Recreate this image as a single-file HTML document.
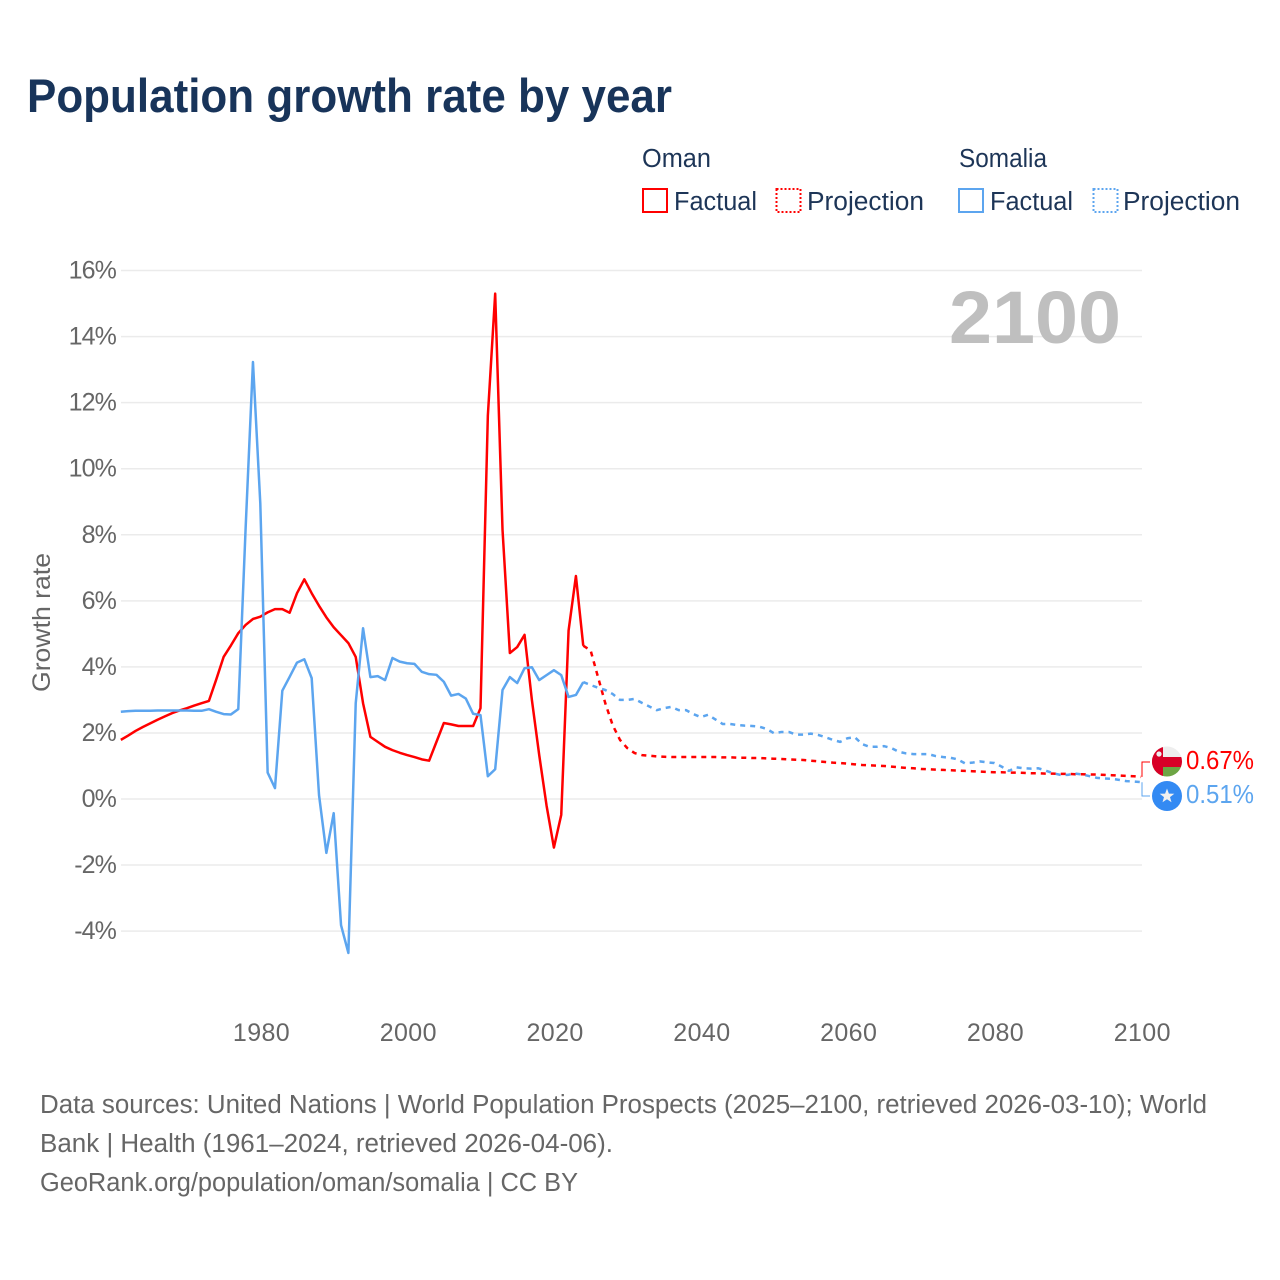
<!DOCTYPE html>
<html lang="en">
<head>
<meta charset="utf-8">
<title>Population growth rate by year</title>
<style>
html,body{margin:0;padding:0;background:#fff;}
svg{display:block;}
text{font-family:"Liberation Sans",sans-serif;}
.tick{font-size:25px;fill:#666;letter-spacing:-0.9px;}
.foot{font-size:25.5px;fill:#666;}
.leg{font-size:25.5px;fill:#1d3557;}
</style>
</head>
<body>
<svg id="chart" xmlns="http://www.w3.org/2000/svg" width="1280" height="1280" viewBox="0 0 1280 1280">
  <rect x="0" y="0" width="1280" height="1280" fill="#fff"/>
  <text x="27" y="112" font-size="47" font-weight="700" fill="#18345a" textLength="645" lengthAdjust="spacingAndGlyphs">Population growth rate by year</text>

  <g>
    <text class="leg" x="642" y="167" textLength="69" lengthAdjust="spacingAndGlyphs">Oman</text>
    <text class="leg" x="959" y="167" textLength="88" lengthAdjust="spacingAndGlyphs">Somalia</text>
    <rect x="643" y="189" width="24" height="23" fill="none" stroke="#ff0000" stroke-width="2"/>
    <text class="leg" x="674" y="210" textLength="83" lengthAdjust="spacingAndGlyphs">Factual</text>
    <rect x="776.5" y="189" width="24" height="23" fill="none" stroke="#ff0000" stroke-width="2" stroke-dasharray="2 2"/>
    <text class="leg" x="807" y="210" textLength="117" lengthAdjust="spacingAndGlyphs">Projection</text>
    <rect x="959" y="189" width="24" height="23" fill="none" stroke="#5ca5ef" stroke-width="2"/>
    <text class="leg" x="990" y="210" textLength="83" lengthAdjust="spacingAndGlyphs">Factual</text>
    <rect x="1093.5" y="189" width="24" height="23" fill="none" stroke="#5ca5ef" stroke-width="2" stroke-dasharray="2 2"/>
    <text class="leg" x="1123" y="210" textLength="117" lengthAdjust="spacingAndGlyphs">Projection</text>
  </g>

  <g id="grid"></g>
  <g id="yticks"></g>
  <g id="xticks"></g>

  <text transform="translate(50,692) rotate(-90)" font-size="25" fill="#666" textLength="139" lengthAdjust="spacingAndGlyphs">Growth rate</text>
  <text id="year-label" x="949" y="343" font-size="74" font-weight="700" fill="#bfbfbf" textLength="172" lengthAdjust="spacingAndGlyphs">2100</text>

  <g id="series"></g>

  <g id="connectors"></g>

  <defs>
    <clipPath id="flag-clip"><circle cx="1167" cy="761.5" r="15"/></clipPath>
  </defs>
  <g clip-path="url(#flag-clip)">
    <rect x="1152" y="746" width="30" height="31" fill="#eeeeee"/>
    <rect x="1152" y="757" width="30" height="10" fill="#d80027"/>
    <rect x="1152" y="767" width="30" height="10" fill="#6da544"/>
    <rect x="1152" y="746" width="11" height="31" fill="#d80027"/>
    <circle cx="1159" cy="754" r="2.6" fill="#eeeeee"/>
  </g>
  <g>
    <circle cx="1167" cy="796" r="15" fill="#338af3"/>
    <polygon points="1167,788.5 1168.9,793.6 1174.3,793.8 1170,797.1 1171.5,802.3 1167,799.3 1162.5,802.3 1164,797.1 1159.7,793.8 1165.1,793.6" fill="#f0f0f0"/>
  </g>
  <text x="1186" y="769" font-size="25.5" fill="#ff0000" textLength="68" lengthAdjust="spacingAndGlyphs">0.67%</text>
  <text x="1186" y="803" font-size="25.5" fill="#5ca5ef" textLength="68" lengthAdjust="spacingAndGlyphs">0.51%</text>

  <g>
    <text class="foot" x="40" y="1113" textLength="1167" lengthAdjust="spacingAndGlyphs">Data sources: United Nations | World Population Prospects (2025–2100, retrieved 2026-03-10); World</text>
    <text class="foot" x="40" y="1152" textLength="573" lengthAdjust="spacingAndGlyphs">Bank | Health (1961–2024, retrieved 2026-04-06).</text>
    <text class="foot" x="40" y="1191" textLength="538" lengthAdjust="spacingAndGlyphs">GeoRank.org/population/oman/somalia | CC BY</text>
  </g>
</svg>
<script>
const factualStartYear = 1961;
const projectionStartYear = 2024;
const yTickValues = [16, 14, 12, 10, 8, 6, 4, 2, 0, -2, -4];
const yTickLabels = ["16%", "14%", "12%", "10%", "8%", "6%", "4%", "2%", "0%", "-2%", "-4%"];
const xTickValues = [1980, 2000, 2020, 2040, 2060, 2080, 2100];
const xTickLabels = ["1980", "2000", "2020", "2040", "2060", "2080", "2100"];

const omanFactual = [
  1.79, 1.92, 2.06, 2.18, 2.29, 2.40, 2.50, 2.60, 2.68, 2.75, 2.83, 2.90, 2.97,
  3.62, 4.30, 4.65, 5.02, 5.27, 5.45, 5.52, 5.65, 5.75, 5.75, 5.64, 6.23, 6.65,
  6.23, 5.85, 5.50, 5.20, 4.96, 4.72, 4.30, 2.90, 1.88, 1.73, 1.58, 1.48, 1.40,
  1.33, 1.27, 1.20, 1.16, 1.73, 2.30, 2.26, 2.21, 2.21, 2.21, 2.75, 11.60, 15.30,
  8.15, 4.42, 4.60, 4.97, 3.00, 1.33, -0.20, -1.47, -0.48, 5.10, 6.75, 4.64
];
const omanProjection = [
  4.64, 4.50, 3.70, 2.90, 2.24, 1.79, 1.54, 1.39, 1.33, 1.31, 1.29, 1.28, 1.27,
  1.27, 1.27, 1.27, 1.27, 1.27, 1.27, 1.26, 1.26, 1.25, 1.25, 1.24, 1.24, 1.23,
  1.22, 1.21, 1.20, 1.19, 1.18, 1.16, 1.14, 1.12, 1.10, 1.09, 1.07, 1.05, 1.03,
  1.02, 1.01, 1.00, 0.98, 0.96, 0.94, 0.93, 0.91, 0.90, 0.89, 0.88, 0.87, 0.86,
  0.85, 0.84, 0.83, 0.82, 0.81, 0.81, 0.80, 0.80, 0.79, 0.78, 0.78, 0.77, 0.77,
  0.76, 0.76, 0.75, 0.75, 0.74, 0.74, 0.73, 0.72, 0.71, 0.70, 0.69, 0.67
];
const somaliaFactual = [
  2.64, 2.66, 2.67, 2.67, 2.67, 2.68, 2.68, 2.68, 2.68, 2.68, 2.67, 2.67, 2.72,
  2.64, 2.57, 2.56, 2.72, 8.20, 13.23, 8.95, 0.80, 0.33, 3.28, 3.70, 4.13, 4.23,
  3.66, 0.12, -1.63, -0.43, -3.82, -4.66, 2.90, 5.17, 3.69, 3.72, 3.60, 4.27,
  4.16, 4.11, 4.09, 3.85, 3.78, 3.76, 3.55, 3.13, 3.18, 3.04, 2.58, 2.54, 0.69,
  0.90, 3.30, 3.69, 3.51, 3.96, 3.99, 3.60, 3.75, 3.90, 3.75, 3.09, 3.15, 3.54
];
const somaliaProjection = [
  3.54, 3.45, 3.37, 3.30, 3.18, 3.00, 3.00, 3.03, 2.91, 2.80, 2.69, 2.75, 2.79,
  2.69, 2.69, 2.57, 2.48, 2.55, 2.41, 2.27, 2.27, 2.24, 2.22, 2.21, 2.19, 2.12,
  1.99, 2.03, 2.03, 1.95, 1.95, 1.98, 1.94, 1.87, 1.79, 1.73, 1.84, 1.87, 1.66,
  1.58, 1.58, 1.60, 1.54, 1.43, 1.38, 1.36, 1.36, 1.36, 1.30, 1.27, 1.25, 1.20,
  1.08, 1.10, 1.14, 1.11, 1.09, 0.98, 0.85, 0.96, 0.93, 0.92, 0.93, 0.86, 0.78,
  0.73, 0.73, 0.77, 0.74, 0.69, 0.64, 0.62, 0.61, 0.58, 0.54, 0.53, 0.51
];

const SVG_NS = "http://www.w3.org/2000/svg";
const RED = "#ff0000";
const BLUE = "#5ca5ef";
function xScale(year) { return 260.3 + (year - 1980) * 7.34; }
function yScale(value) { return 799 - value * 33.03; }
function pointsFor(values, startYear) {
  return values.map(function (v, i) {
    return xScale(startYear + i).toFixed(2) + "," + yScale(v).toFixed(2);
  }).join(" ");
}

const gridGroup = document.getElementById("grid");
const yGroup = document.getElementById("yticks");
yTickValues.forEach(function (v, i) {
  const line = document.createElementNS(SVG_NS, "line");
  
  
  line.setAttribute("x1", 121);
  line.setAttribute("x2", 1142);
  line.setAttribute("y1", yScale(v));
  line.setAttribute("y2", yScale(v));
  line.setAttribute("stroke", "#ebebeb");
  line.setAttribute("stroke-width", "1.5");
  gridGroup.appendChild(line);
  const t = document.createElementNS(SVG_NS, "text");
  
  
  t.setAttribute("class", "tick");
  t.setAttribute("x", 116);
  t.setAttribute("y", yScale(v) + 8);
  t.setAttribute("text-anchor", "end");
  t.textContent = yTickLabels[i];
  yGroup.appendChild(t);
});

const xGroup = document.getElementById("xticks");
xTickValues.forEach(function (yr, i) {
  const t = document.createElementNS(SVG_NS, "text");
  
  
  t.setAttribute("class", "tick");
  t.setAttribute("x", xScale(yr) + 1.2);
  t.setAttribute("y", 1041);
  t.setAttribute("text-anchor", "middle");
  t.style.letterSpacing = "0.4px";
  t.textContent = xTickLabels[i];
  xGroup.appendChild(t);
});

const seriesGroup = document.getElementById("series");
function drawLine(values, startYear, color, dashed, name) {
  const p = document.createElementNS(SVG_NS, "polyline");
  
  
  p.setAttribute("points", pointsFor(values, startYear));
  p.setAttribute("fill", "none");
  p.setAttribute("stroke", color);
  p.setAttribute("stroke-width", "2.5");
  p.setAttribute("stroke-linejoin", "round");
  if (dashed) { p.setAttribute("stroke-dasharray", "5 5"); }
  seriesGroup.appendChild(p);
}
drawLine(omanFactual, factualStartYear, RED, false, "oman-factual-line");
drawLine(somaliaFactual, factualStartYear, BLUE, false, "somalia-factual-line");
drawLine(omanProjection, projectionStartYear, RED, true, "oman-projection-line");
drawLine(somaliaProjection, projectionStartYear, BLUE, true, "somalia-projection-line");

const connectorGroup = document.getElementById("connectors");
function drawConnector(lastValue, labelY, color, name) {
  const c = document.createElementNS(SVG_NS, "polyline");
  
  
  c.setAttribute("points", "1142," + yScale(lastValue).toFixed(1) + " 1142," + labelY + " 1150," + labelY);
  c.setAttribute("fill", "none");
  c.setAttribute("stroke", color);
  c.setAttribute("stroke-width", "1");
  connectorGroup.appendChild(c);
}
drawConnector(omanProjection[omanProjection.length - 1], 762, RED, "oman-connector");
drawConnector(somaliaProjection[somaliaProjection.length - 1], 796, BLUE, "somalia-connector");
</script>
</body>
</html>
